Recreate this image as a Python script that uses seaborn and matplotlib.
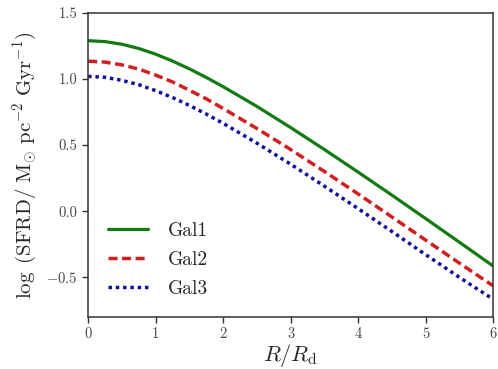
import numpy as np
import pandas as pd
import matplotlib
matplotlib.use("Agg")
import matplotlib.pyplot as plt
import seaborn as sns

R = [0.0, 0.25, 0.5, 0.75, 1.0, 1.25, 1.5, 1.75, 2.0, 2.5, 3.0, 3.5, 4.0, 4.5, 5.0, 5.5, 6.0]
gal1 = [1.290, 1.283, 1.263, 1.231, 1.188, 1.136, 1.077, 1.012, 0.942, 0.793, 0.633, 0.467, 0.296, 0.122, -0.055, -0.234, -0.414]
gal2 = [1.135, 1.128, 1.107, 1.075, 1.030, 0.978, 0.915, 0.850, 0.777, 0.626, 0.467, 0.301, 0.131, -0.043, -0.218, -0.392, -0.564]
gal3 = [1.020, 1.013, 0.990, 0.957, 0.912, 0.860, 0.800, 0.735, 0.665, 0.515, 0.356, 0.190, 0.020, -0.153, -0.328, -0.500, -0.665]
labels = ["Gal1", "Gal2", "Gal3"]
xticks = [0, 1, 2, 3, 4, 5, 6]
yticks = [-0.5, 0.0, 0.5, 1.0, 1.5]

sns.set_style("ticks")
plt.rcParams["font.family"] = ["cmr10", "DejaVu Serif"]
plt.rcParams["mathtext.fontset"] = "cm"
plt.rcParams["axes.formatter.use_mathtext"] = True
plt.rcParams["axes.edgecolor"] = "#333333"
plt.rcParams["xtick.color"] = "#333333"
plt.rcParams["ytick.color"] = "#333333"

fig = plt.figure(figsize=(4.98, 3.69), dpi=100)
ax = fig.add_axes([0.177, 0.141, 0.813, 0.824])

series = [gal1, gal2, gal3]
colors = ["#117a11", "#d11f1f", "#10109a"]
styles = ["-", (0, (2.6, 1.3)), (0, (1, 1.1))]
lws = [2.3, 2.5, 2.5]
for lab, vals, c, ls, lw in zip(labels, series, colors, styles, lws):
    df = pd.DataFrame({"R": R, "v": vals})
    sns.lineplot(data=df, x="R", y="v", ax=ax, color=c, linestyle=ls, linewidth=lw, label=lab)

ax.set_xlim(0, 6)
ax.set_ylim(-0.8, 1.5)
ax.set_xticks(xticks)
ax.set_yticks(yticks)
ax.set_xticklabels([str(t) for t in xticks])
ax.set_yticklabels(["$-0.5$", "0.0", "0.5", "1.0", "1.5"])
ax.tick_params(labelsize=10.5, length=4, width=1, direction="out", labelcolor="#444444")
ax.set_xlabel(r"$R/R_{\rm d}$", fontsize=16, labelpad=1)
ax.set_ylabel(r"$\log\ ({\rm SFRD}/\ {\rm M_{\odot}\ pc^{-2}\ Gyr^{-1}})$", fontsize=15, labelpad=5)
for s in ax.spines.values():
    s.set_linewidth(1.1)

leg = ax.legend(loc="lower left", frameon=False, fontsize=14, handlelength=2.1,
                labelspacing=0.55, handletextpad=1.0, borderaxespad=0.6,
                bbox_to_anchor=(0.0, 0.0))
fig.savefig("out.png", dpi=100)
